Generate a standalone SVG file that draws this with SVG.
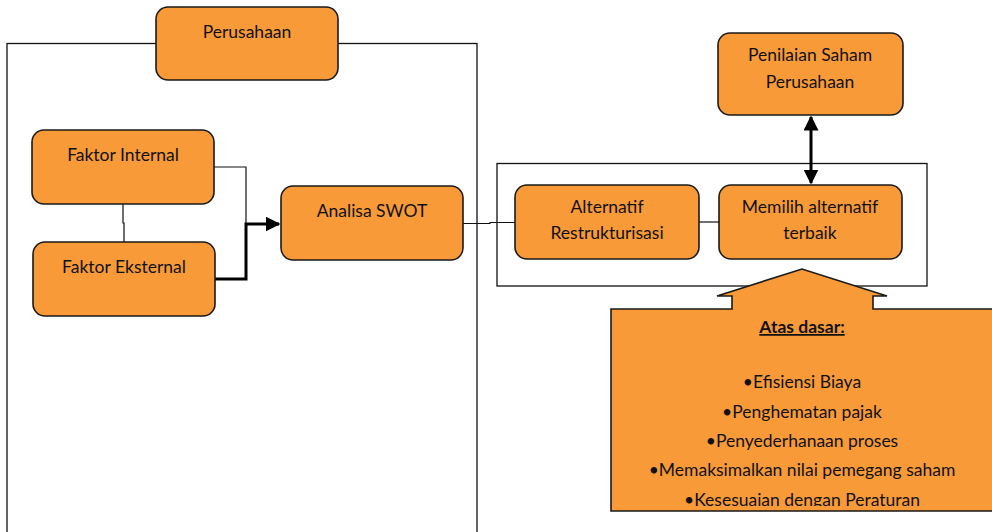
<svg xmlns="http://www.w3.org/2000/svg" width="992" height="532" viewBox="0 0 992 532">
<style>
.box{fill:#F89A37;stroke:#1a1a1a;stroke-width:1.6}
.t{font-family:Lato,"Open Sans","Liberation Sans",sans-serif;font-size:17.5px;fill:#111;text-anchor:middle}
.thin{fill:none;stroke:#111;stroke-width:1.2}
.thick{fill:none;stroke:#000;stroke-width:3}
</style>
<defs>
<marker id="ah" markerWidth="5" markerHeight="5" refX="4.5" refY="2.5" orient="auto" markerUnits="strokeWidth">
<path d="M0,0 L5,2.5 L0,5 Z" fill="#000"/>
</marker>
<marker id="ahs" markerWidth="5" markerHeight="5" refX="4.5" refY="2.5" orient="auto-start-reverse" markerUnits="strokeWidth">
<path d="M0,0 L5,2.5 L0,5 Z" fill="#000"/>
</marker>
<clipPath id="bodyclip"><rect x="611" y="309" width="381" height="197"/></clipPath>
</defs>
<g id="frames">
<rect x="7" y="43.5" width="470" height="500" fill="none" stroke="#111" stroke-width="1.3"/>
<rect x="497" y="163.5" width="430" height="122.5" fill="none" stroke="#111" stroke-width="1.3"/>
</g>
<g id="connectors">
<polyline class="thin" points="214,167 246,167 246,224"/>
<polyline class="thick" points="215,279 246,279 246,224 279,224" marker-end="url(#ah)"/>
<polyline class="thin" points="123,204 123,223 124,223 124,242"/>
<polyline class="thin" points="463,223.5 490,223.5 490,222.5 515,222.5"/>
<line class="thin" x1="699" y1="222" x2="719" y2="222"/>
<line class="thick" x1="811" y1="117" x2="811" y2="183" marker-start="url(#ahs)" marker-end="url(#ah)"/>
</g>
<g id="perusahaan">
<rect class="box" x="156" y="7" width="182" height="73" rx="12"/>
<text class="t" x="247" y="38">Perusahaan</text>
</g>
<g id="faktor-internal">
<rect class="box" x="32" y="130" width="182" height="74" rx="12"/>
<text class="t" x="123" y="161">Faktor Internal</text>
</g>
<g id="faktor-eksternal">
<rect class="box" x="33" y="242" width="182" height="74" rx="12"/>
<text class="t" x="124" y="273">Faktor Eksternal</text>
</g>
<g id="analisa-swot">
<rect class="box" x="281" y="186" width="182" height="74" rx="12"/>
<text class="t" x="372" y="217">Analisa SWOT</text>
</g>
<g id="alternatif">
<rect class="box" x="515" y="185" width="184" height="74" rx="12"/>
<text class="t" x="607" y="213">Alternatif</text>
<text class="t" x="607" y="239">Restrukturisasi</text>
</g>
<g id="memilih">
<rect class="box" x="719" y="185" width="183" height="74" rx="12"/>
<text class="t" x="810" y="213">Memilih alternatif</text>
<text class="t" x="810" y="239">terbaik</text>
</g>
<g id="penilaian">
<rect class="box" x="718" y="33" width="185" height="82" rx="12"/>
<text class="t" x="810" y="61">Penilaian Saham</text>
<text class="t" x="810" y="88">Perusahaan</text>
</g>
<g id="atas-dasar">
<path class="box" d="M611,309 L732,309 L732,296 L717,296 L802,269 L887,296 L873,296 L873,309 L994,309 L994,511 L611,511 Z"/>
<text class="t" x="802" y="333" font-weight="bold" text-decoration="underline">Atas dasar:</text>
<text class="t" x="802" y="388">•Efisiensi Biaya</text>
<text class="t" x="802" y="418">•Penghematan pajak</text>
<text class="t" x="802" y="447">•Penyederhanaan proses</text>
<text class="t" x="802" y="476">•Memaksimalkan nilai pemegang saham</text>
<text class="t" x="802" y="506" clip-path="url(#bodyclip)">•Kesesuaian dengan Peraturan</text>
</g>
</svg>
